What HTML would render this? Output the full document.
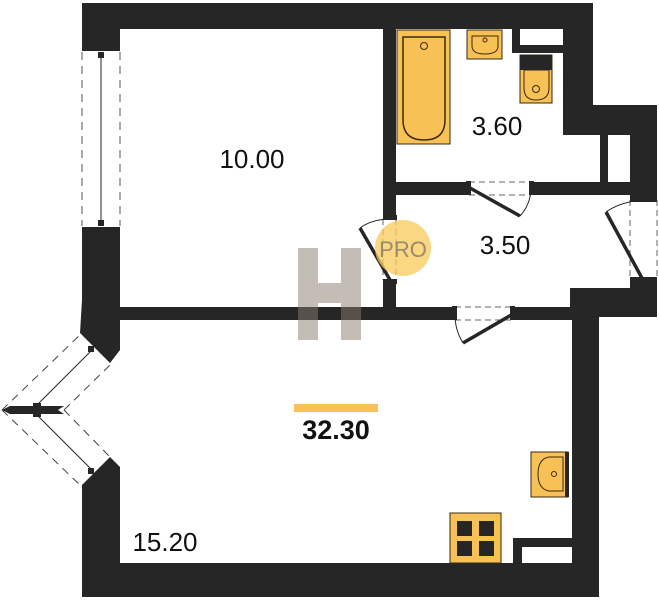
<!DOCTYPE html>
<html><head><meta charset="utf-8"><style>
html,body{margin:0;padding:0;background:#fff;}
svg{display:block;}
text{font-family:"Liberation Sans","DejaVu Sans",sans-serif;}
</style></head><body>
<svg width="659" height="600" viewBox="0 0 659 600" xmlns="http://www.w3.org/2000/svg">
<g fill="#262626">
 <rect x="82" y="3" width="511" height="26"/>
 <rect x="82" y="3" width="38" height="45"/>
 <rect x="82" y="230" width="38" height="70"/>
 <polygon points="82,300 120,300 120,350 110,363 80,333"/>
 <polygon points="110,457 120,467 120,597 82,597 82,485"/>
 <rect x="82" y="563" width="517" height="34"/>
 <rect x="572" y="288" width="27" height="309"/>
 <rect x="570" y="288" width="87" height="29"/>
 <rect x="563" y="3" width="30" height="132"/>
 <rect x="563" y="105" width="94" height="30"/>
 <rect x="600" y="105" width="8" height="77"/>
 <rect x="630" y="105" width="27" height="97"/>
 <rect x="630" y="278" width="27" height="39"/>
 <rect x="512" y="29" width="8" height="24"/>
 <rect x="512" y="45" width="51" height="8"/>
 <rect x="383" y="29" width="13" height="188"/>
 <rect x="383" y="282" width="13" height="38"/>
 <rect x="396" y="182" width="71" height="13"/>
 <rect x="533" y="182" width="124" height="13"/>
 <rect x="120" y="307" width="333" height="13"/>
 <rect x="513" y="307" width="59" height="13"/>
 <rect x="513" y="538" width="59" height="25"/>
</g>
<rect x="522" y="547" width="50" height="16" fill="#fff"/>
<rect x="520" y="29" width="43" height="16" fill="#fff"/>

<rect x="82" y="48" width="38" height="3" fill="#262626"/>
<rect x="82" y="227" width="38" height="3" fill="#262626"/>
<rect x="98" y="52" width="6" height="6" fill="#262626"/>
<rect x="98" y="220" width="6" height="6" fill="#262626"/>
<line x1="101" y1="55" x2="101" y2="222" stroke="#262626" stroke-width="1"/>
<line x1="82" y1="52" x2="82" y2="226" stroke="#555" stroke-dasharray="8,6"/>
<line x1="120" y1="52" x2="120" y2="226" stroke="#555" stroke-dasharray="8,6"/>

<g stroke="#444" fill="none">
 <line x1="2" y1="410" x2="82" y2="333" stroke-dasharray="8,6"/>
 <line x1="2" y1="410" x2="82" y2="487" stroke-dasharray="8,6"/>
 <line x1="64" y1="410" x2="110" y2="365" stroke-dasharray="8,6"/>
 <line x1="64" y1="410" x2="110" y2="457" stroke-dasharray="8,6"/>
 <line x1="37" y1="405" x2="92" y2="350" stroke="#262626"/>
 <line x1="37" y1="415" x2="92" y2="470" stroke="#262626"/>
</g>
<polygon points="2,410 10,406 64,406 58,410 64,414 10,414" fill="#262626"/>
<rect x="33" y="403" width="8" height="14" fill="#262626"/>
<rect x="88" y="346" width="6" height="6" fill="#262626"/>
<rect x="88" y="468" width="6" height="6" fill="#262626"/>

<g stroke="#262626" fill="none">
 <line x1="469" y1="182" x2="531" y2="182" stroke="#666" stroke-dasharray="6,4"/>
 <line x1="469" y1="195" x2="531" y2="195" stroke="#666" stroke-dasharray="6,4"/>
 <line x1="470" y1="188" x2="520" y2="216" stroke-width="3.5"/>
 <path d="M520,216 Q530,205 531,190" stroke-width="1"/>
 <line x1="383" y1="219" x2="383" y2="280" stroke="#666" stroke-dasharray="6,4"/>
 <line x1="396" y1="219" x2="396" y2="280" stroke="#666" stroke-dasharray="6,4"/>
 <line x1="390" y1="280" x2="360" y2="228" stroke-width="3.5"/>
 <path d="M360,228 Q372,219 390,219" stroke-width="1"/>
 <line x1="630" y1="200" x2="630" y2="280" stroke="#666" stroke-dasharray="6,4"/>
 <line x1="657" y1="200" x2="657" y2="280" stroke="#666" stroke-dasharray="6,4"/>
 <line x1="643" y1="280" x2="606" y2="212" stroke-width="3.5"/>
 <path d="M606,212 Q620,202 642,200" stroke-width="1"/>
 <line x1="455" y1="307" x2="512" y2="307" stroke="#666" stroke-dasharray="6,4"/>
 <line x1="455" y1="320" x2="512" y2="320" stroke="#666" stroke-dasharray="6,4"/>
 <line x1="513" y1="314" x2="463" y2="343" stroke-width="3.5"/>
 <path d="M463,343 Q455,330 455,315" stroke-width="1"/>
</g>
<g fill="#262626">
 <rect x="466" y="181" width="5" height="14"/><rect x="529" y="181" width="5" height="14"/>
 <rect x="383" y="215" width="14" height="5"/><rect x="383" y="279" width="14" height="5"/>
 <rect x="630" y="197" width="27" height="5"/><rect x="630" y="277" width="27" height="5"/>
 <rect x="452" y="306" width="5" height="14"/><rect x="510" y="306" width="5" height="14"/>
</g>

<g stroke="#3a2a10" fill="#f7c155">
 <rect x="397" y="30" width="53" height="114" stroke-width="1"/>
 <path d="M403,37 H445 V120 Q445,140 424,140 Q403,140 403,120 Z" stroke-width="1.5"/>
 <circle cx="424" cy="46" r="3.5" stroke-width="1"/>
 <rect x="467" y="30" width="35" height="29" stroke-width="1"/>
 <path d="M472,36 H498 V46 Q498,54 485,54 Q472,54 472,46 Z" stroke-width="1"/>
 <circle cx="485" cy="40" r="2" stroke-width="1"/>
 <rect x="520" y="55" width="32" height="48" stroke-width="1"/>
 <path d="M524,70 H549 V88 Q549,100 536,100 Q524,100 524,88 Z" stroke-width="1"/>
 <circle cx="536" cy="89" r="3.5" stroke-width="1"/>
 <rect x="531" y="452" width="37" height="45" stroke-width="1"/>
 <path d="M563,457 H549 Q538,459 538,474 Q538,489 549,491 H563 Z" stroke-width="1"/>
 <circle cx="554" cy="474" r="2.5" stroke-width="1"/>
 <rect x="450" y="513" width="51" height="50" stroke-width="1"/>
</g>
<rect x="520" y="55" width="32" height="15" fill="#262626"/>
<rect x="565" y="452" width="4" height="45" fill="#262626"/>
<g fill="#262626">
 <rect x="457" y="521" width="15" height="15"/><rect x="479" y="521" width="15" height="15"/>
 <rect x="457" y="541" width="15" height="15"/><rect x="479" y="541" width="15" height="15"/>
</g>

<g fill="#8a7d70" opacity="0.5">
 <rect x="298" y="248" width="20" height="92"/>
 <rect x="341" y="248" width="20" height="92"/>
 <rect x="318" y="283" width="23" height="20"/>
</g>
<circle cx="403" cy="248" r="28" fill="#f8c95a" opacity="0.75"/>
<text x="403" y="257" font-size="22" fill="#9a8a6a" text-anchor="middle">PRO</text>

<text x="252" y="168" font-size="26" fill="#111" text-anchor="middle">10.00</text>
<text x="497" y="135" font-size="26" fill="#111" text-anchor="middle">3.60</text>
<text x="505" y="254" font-size="26" fill="#111" text-anchor="middle">3.50</text>
<rect x="294" y="404" width="84" height="8" fill="#f7c155"/>
<text x="336" y="439" font-size="27" font-weight="bold" fill="#111" text-anchor="middle">32.30</text>
<text x="165" y="551" font-size="26" fill="#111" text-anchor="middle">15.20</text>
</svg>
</body></html>
